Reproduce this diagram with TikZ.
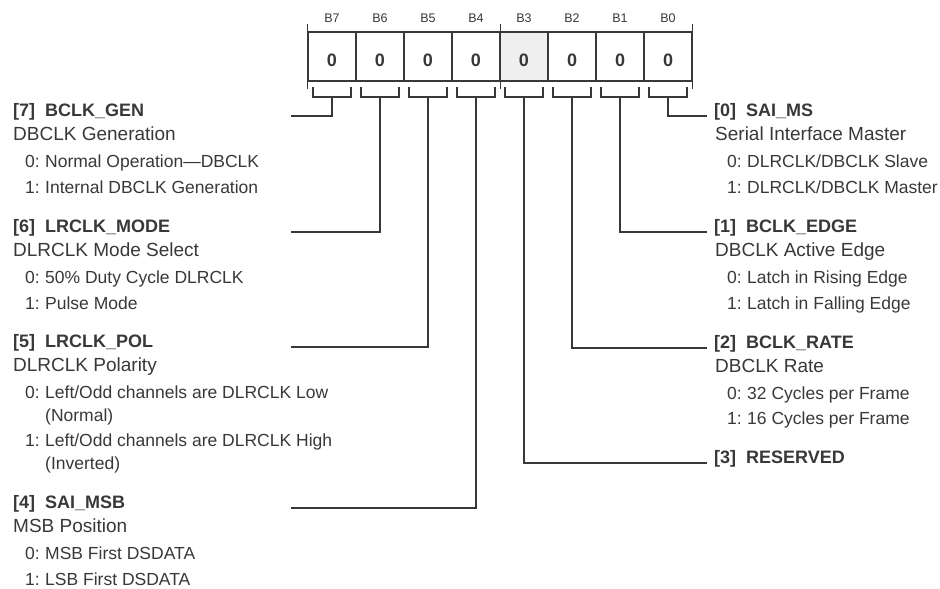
\documentclass[tikz,border=0pt]{standalone}
\usepackage{fontspec}
\setmainfont{Liberation Sans}
\definecolor{ink}{HTML}{383838}
\definecolor{resgray}{HTML}{EFEFEF}
\newcommand\optval[1]{\makebox[20pt][l]{#1}}
\tikzset{
  wire/.style={draw=ink, line width=1.4pt},
  regcell/.style={draw=ink, line width=1.4pt, minimum width=48pt, minimum height=49pt, inner sep=0pt},
  cellval/.style={inner sep=0pt, text=ink, font=\fontsize{18}{18}\selectfont\bfseries},
  bitname/.style={inner sep=0pt, text=ink, font=\fontsize{12.5}{13}\selectfont},
  fieldtitle/.style={anchor=base west, inner sep=0pt, text=ink, font=\fontsize{18}{20}\selectfont\bfseries},
  fielddesc/.style={anchor=base west, inner sep=0pt, text=ink, font=\fontsize{19}{20}\selectfont},
  fieldopt/.style={anchor=base west, inner sep=0pt, text=ink, font=\fontsize{17.5}{20}\selectfont},
}
\begin{document}
\begin{tikzpicture}[x=1pt, y=-1pt]
        \useasboundingbox (0,0) rectangle (940,589);

        % Register cells, bit names and brackets
        \foreach \b/\f in {7/white,6/white,5/white,4/white,3/resgray,2/white,1/white,0/white} {
          \pgfmathsetmacro\cx{332+48*(7-\b)}
          \node[regcell, fill=\f] (c\b) at (\cx,56.5) {};
          \node[cellval] (v\b) at (\cx,60) {0};
          \node[bitname] (n\b) at (\cx,18) {B\b};
          \draw[wire] (\cx-19,87) -- (\cx-19,97) -- (\cx+19,97) -- (\cx+19,87);
          \coordinate (k\b) at (\cx,97);
        }

        % Nibble ticks
        \draw[wire] (c7.north west) -- ++(0,-7);
        \draw[wire] (c7.south west) -- ++(0,7);
        \draw[wire] (c4.north east) -- ++(0,-7);
        \draw[wire] (c4.south east) -- ++(0,7);
        \draw[wire] (c0.north east) -- ++(0,-7);
        \draw[wire] (c0.south east) -- ++(0,7);

        % Left fields
        \node[fieldtitle] (t7) at (13,116) {[7]\hspace{10pt}BCLK\_GEN};
        \node[fielddesc] (d7) at (13,140) {DBCLK Generation};
        \node[fieldopt] (o70) at (25,167) {\optval{0:}Normal Operation—DBCLK};
        \node[fieldopt] (o71) at (25,193) {\optval{1:}Internal DBCLK Generation};

        \node[fieldtitle] (t6) at (13,232) {[6]\hspace{10pt}LRCLK\_MODE};
        \node[fielddesc] (d6) at (13,256) {DLRCLK Mode Select};
        \node[fieldopt] (o60) at (25,283) {\optval{0:}50\% Duty Cycle DLRCLK};
        \node[fieldopt] (o61) at (25,309) {\optval{1:}Pulse Mode};

        \node[fieldtitle] (t5) at (13,347) {[5]\hspace{10pt}LRCLK\_POL};
        \node[fielddesc] (d5) at (13,371) {DLRCLK Polarity};
        \node[fieldopt] (o50) at (25,398) {\optval{0:}Left/Odd channels are DLRCLK Low};
        \node[fieldopt] (o50b) at (45,421) {(Normal)};
        \node[fieldopt] (o51) at (25,446) {\optval{1:}Left/Odd channels are DLRCLK High};
        \node[fieldopt] (o51b) at (45,469) {(Inverted)};

        \node[fieldtitle] (t4) at (13,508) {[4]\hspace{10pt}SAI\_MSB};
        \node[fielddesc] (d4) at (13,532) {MSB Position};
        \node[fieldopt] (o40) at (25,559) {\optval{0:}MSB First DSDATA};
        \node[fieldopt] (o41) at (25,585) {\optval{1:}LSB First DSDATA};

        % Right fields
        \node[fieldtitle] (t0) at (714,116) {[0]\hspace{10pt}SAI\_MS};
        \node[fielddesc] (d0) at (715,140) {Serial Interface Master};
        \node[fieldopt] (o00) at (727,167) {\optval{0:}DLRCLK/DBCLK Slave};
        \node[fieldopt] (o01) at (727,193) {\optval{1:}DLRCLK/DBCLK Master};

        \node[fieldtitle] (t1) at (714,232) {[1]\hspace{10pt}BCLK\_EDGE};
        \node[fielddesc] (d1) at (715,256) {DBCLK Active Edge};
        \node[fieldopt] (o10) at (727,283) {\optval{0:}Latch in Rising Edge};
        \node[fieldopt] (o11) at (727,309) {\optval{1:}Latch in Falling Edge};

        \node[fieldtitle] (t2) at (714,348) {[2]\hspace{10pt}BCLK\_RATE};
        \node[fielddesc] (d2) at (715,372) {DBCLK Rate};
        \node[fieldopt] (o20) at (727,399) {\optval{0:}32 Cycles per Frame};
        \node[fieldopt] (o21) at (727,424) {\optval{1:}16 Cycles per Frame};

        \node[fieldtitle] (t3) at (714,463) {[3]\hspace{10pt}RESERVED};

        % Line ends
        \coordinate (e7) at (291,116);
        \coordinate (e6) at (291,232);
        \coordinate (e5) at (291,347);
        \coordinate (e4) at (291,508);
        \coordinate (e0) at (707,116);
        \coordinate (e1) at (707,232);
        \coordinate (e2) at (707,348);
        \coordinate (e3) at (707,463);

        % Connectors
        \draw[wire] (k7) |- (e7);
        \draw[wire] (k6) |- (e6);
        \draw[wire] (k5) |- (e5);
        \draw[wire] (k4) |- (e4);
        \draw[wire] (k0) |- (e0);
        \draw[wire] (k1) |- (e1);
        \draw[wire] (k2) |- (e2);
        \draw[wire] (k3) |- (e3);
      \end{tikzpicture}
\end{document}
